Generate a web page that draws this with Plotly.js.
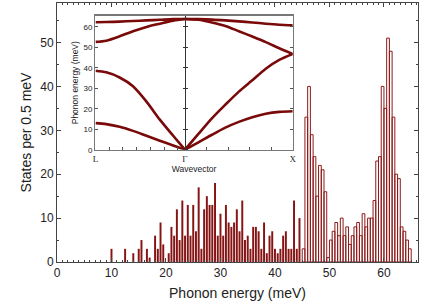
<!DOCTYPE html>
<html><head><meta charset="utf-8">
<script src="https://cdn.plot.ly/plotly-3.0.1.min.js"></script>
<style>html,body{margin:0;padding:0;background:#fff}#chart{width:436px;height:305px}</style>
</head><body><div id="chart"></div>
<script>
// Phonon density of states, 0.5 meV bins
const lowEnergy = [10,12.5,14,15,15.5,16.5,17,18,18.5,19,19.5,20.5,21,21.5,22,22.5,23,23.5,24,24.5,25,25.5,26,26.5,27,27.5,28,28.5,29,29.5,30,30.5,31,31.5,32,32.5,33,33.5,34,34.5,35,35.5,36,36.5,37,37.5,38,38.5,39,39.5,40,40.5,41,41.5,42,42.5,43,43.5,44,44.5];
const lowStates = [3,3,2,3,5,3,1,6,3,9,4,2,8,6,12,5,14,6,13,6,13,7,17,3,12,15,13,13,18,6,11,6,13,9,8,9,12,7,14,5,6,3,8,8,7,3,9,2,6,7,3,2,3,6,7,3,3,14,3,10];
const highEnergy = [45.25,45.75,46.25,46.75,47.25,47.75,48.25,48.75,49.25,49.75,50.25,50.75,51.25,51.75,52.25,52.75,53.25,53.75,54.25,54.75,55.25,55.75,56.25,56.75,57.25,57.75,58.25,58.75,59.25,59.75,60.25,60.75,61.25,61.75,62.25,62.75,63.25,63.75,64.25,64.75];
const highStates = [3,33,40,29,24,15,22,21,16,1,5,7,9,6,10,6,8,4,6,8,9,6,11,8,10,10,14,23,24,40,35,51,48,33,20,19,8,7,5,3];

// Inset: dispersion along L - Gamma - X (Gamma = 0, X = 1)
const kLG = [-0.83,-0.73,-0.606,-0.482,-0.357,-0.233,-0.109,0];
const toLG = [62.3,62.4,62.6,62.9,63.2,63.5,63.8,63.9];
const loLG = [52.7,53.3,55.4,57.9,60.0,61.6,63.1,63.9];
const laLG = [38.6,37.8,35.3,31.0,23.5,14.7,6.8,0];
const taLG = [13.0,12.5,11.2,9.2,6.8,4.4,2.1,0];
const kGX = [0,0.125,0.25,0.375,0.5,0.625,0.75,0.875,1];
const toGX = [63.9,63.8,63.6,63.2,62.7,62.2,61.6,61.1,60.8];
const loGX = [63.9,63.5,62.2,60.5,57.9,55.3,52.6,49.6,46.8];
const laGX = [0,7.7,15.3,22.0,28.4,33.9,39.6,43.9,46.8];
const taGX = [0,3.6,7.3,10.8,13.6,15.9,17.6,18.5,18.8];
const kLabels = ['L','\u0393','X'];
const kTicks = [-0.83,0,1];

const red = '#800000';
const traces = [
  {type:'bar', x:lowEnergy, y:lowStates, width:0.36, marker:{color:'#861414', line:{width:0}}, hoverinfo:'skip'},
  {type:'bar', x:highEnergy, y:highStates, width:0.5, marker:{color:'rgba(255,255,255,0)', line:{color:'#8e1a1a', width:1}}, hoverinfo:'skip'}
];
const curveStyle = {color:'#7a0a0a', width:2.6, shape:'spline', smoothing:0.8};
[[kLG,toLG],[kLG,loLG],[kLG,laLG],[kLG,taLG],[kGX,toGX],[kGX,loGX],[kGX,laGX],[kGX,taGX]].forEach(function(p){
  traces.push({type:'scatter', mode:'lines', x:p[0], y:p[1], xaxis:'x2', yaxis:'y2', line:curveStyle, hoverinfo:'skip', cliponaxis:true});
});
// dummy traces to create Gamma-line axes
traces.push({type:'scatter', mode:'lines', x:[0], y:[0], xaxis:'x2', yaxis:'y3', line:{width:0}, hoverinfo:'skip', showlegend:false});
traces.push({type:'scatter', mode:'lines', x:[0], y:[0], xaxis:'x2', yaxis:'y4', line:{width:0}, hoverinfo:'skip', showlegend:false});

const fam = 'Liberation Sans, Arial, sans-serif';
const gpos = 0.1066 + (0.83/1.83)*(0.653-0.1066);
const layout = {
  width:436, height:305,
  margin:{l:57, r:18, t:3, b:43},
  paper_bgcolor:'#fff', plot_bgcolor:'#fff',
  showlegend:false, barmode:'overlay',
  font:{family:fam, color:'#222'},
  xaxis:{range:[0,66.25], dtick:10, tick0:0, ticks:'inside', ticklen:4, tickcolor:'#444', tickwidth:1,
    minor:{ticks:'inside', dtick:1, ticklen:2, tickcolor:'#444'},
    showline:true, linecolor:'#444', linewidth:1, mirror:'ticks', showgrid:false, zeroline:false,
    tickfont:{size:12, family:fam, color:'#222'},
    title:{text:'Phonon energy (meV)', font:{size:14, family:fam, color:'#222'}, standoff:8}},
  yaxis:{range:[0,59], dtick:10, tick0:0, ticks:'inside', ticklen:4, tickcolor:'#444', tickwidth:1,
    minor:{ticks:'inside', dtick:5, ticklen:2, tickcolor:'#444'},
    showline:true, linecolor:'#444', linewidth:1, mirror:'ticks', showgrid:false, zeroline:false,
    tickfont:{size:12, family:fam, color:'#222'},
    title:{text:'States per 0.5 meV', font:{size:14, family:fam, color:'#222'}, standoff:5}},
  xaxis2:{domain:[0.1066,0.653], anchor:'y2', range:[-0.83,1], tickvals:kTicks, ticktext:kLabels,
    ticks:'', showline:true, linecolor:'#777', linewidth:1.5, mirror:true, showgrid:false, zeroline:false,
    minor:{tickvals:[-0.699,-0.575,-0.445,-0.318,-0.193,-0.071,0.2,0.4,0.6,0.8], ticks:'inside', ticklen:3, tickcolor:'#555'},
    tickfont:{size:9, family:'Liberation Serif, Times New Roman, serif', color:'#222'},
    title:{text:'Wavevector', font:{size:8.5, family:fam, color:'#222'}, standoff:1}},
  yaxis2:{domain:[0.4336,0.951], anchor:'x2', range:[0,65.5], dtick:10, tick0:0, ticks:'inside', ticklen:3, tickcolor:'#555',
    showline:true, linecolor:'#777', linewidth:1.5, mirror:'ticks', showgrid:false, zeroline:false,
    tickfont:{size:8, family:fam, color:'#222'},
    title:{text:'Phonon energy (meV)', font:{size:8.5, family:fam, color:'#222'}, standoff:3}},
  yaxis3:{overlaying:'y2', anchor:'free', position:gpos, side:'left', range:[0,65.5], dtick:10, tick0:0,
    ticks:'outside', ticklen:2, tickcolor:'#333', showticklabels:false, showline:true, linecolor:'#333', linewidth:1,
    showgrid:false, zeroline:false},
  yaxis4:{overlaying:'y2', anchor:'free', position:gpos, side:'right', range:[0,65.5], dtick:10, tick0:0,
    ticks:'outside', ticklen:2, tickcolor:'#333', showticklabels:false, showline:false,
    showgrid:false, zeroline:false}
};
Plotly.newPlot('chart', traces, layout, {staticPlot:true, displayModeBar:false});
</script>
</body></html>
